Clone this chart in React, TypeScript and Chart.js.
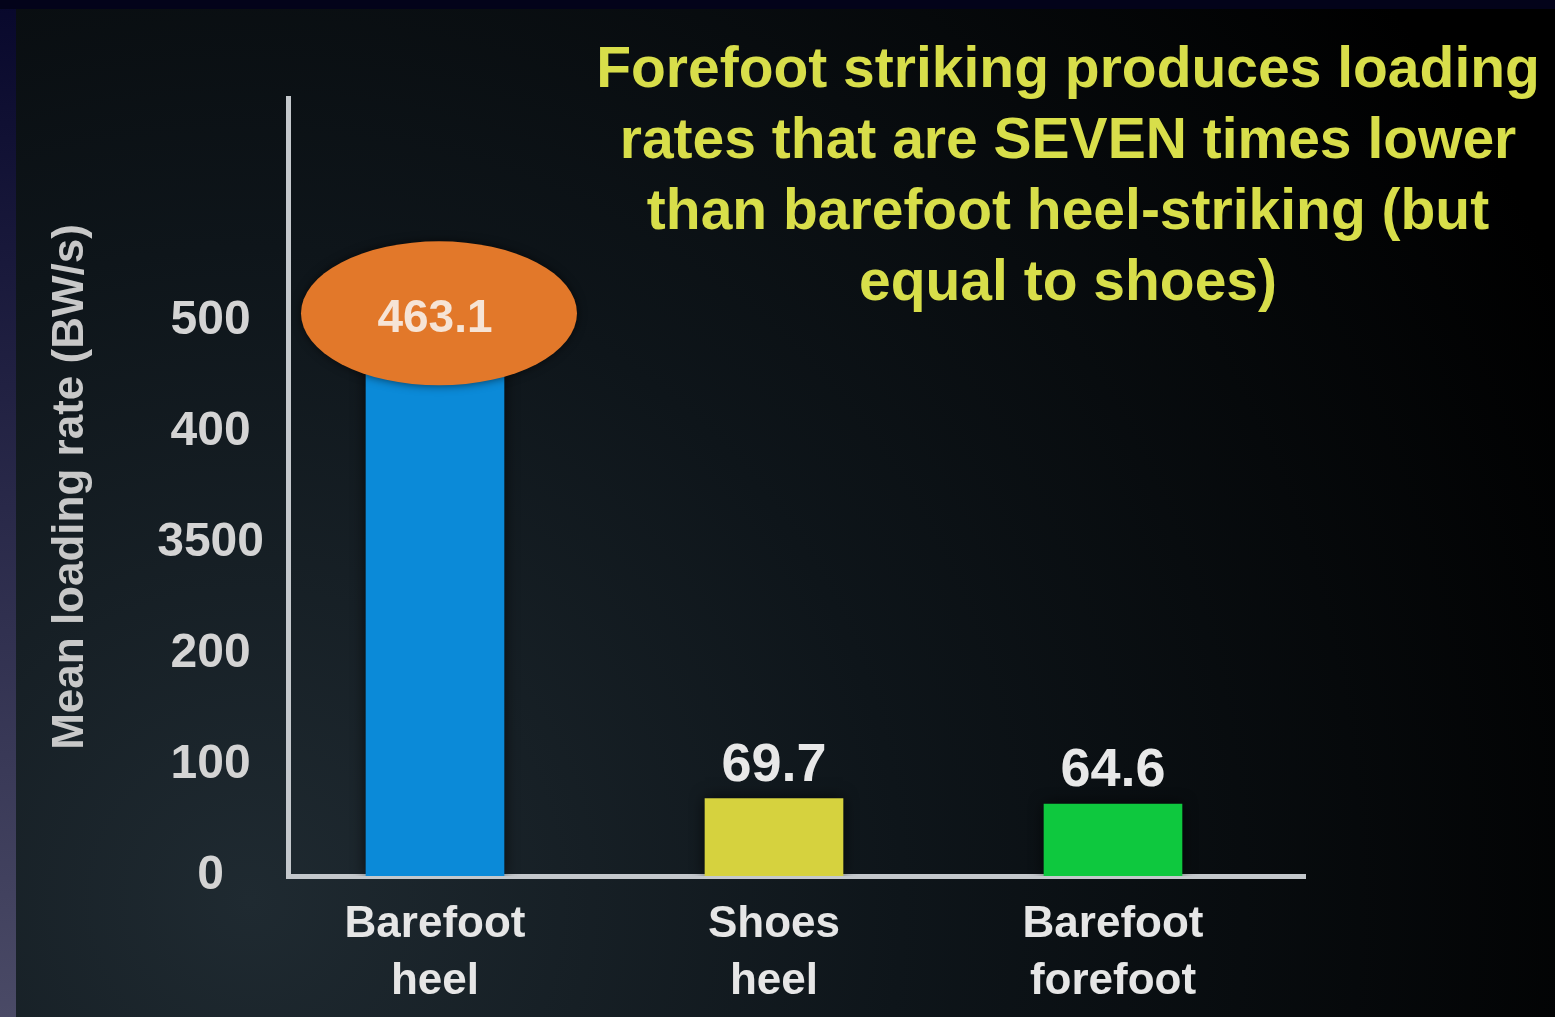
import React, { useEffect, useRef } from 'react';
import { Chart, registerables } from 'chart.js';

Chart.register(...registerables);

const categories: string[][] = [
  ['Barefoot', 'heel'],
  ['Shoes', 'heel'],
  ['Barefoot', 'forefoot'],
];
const values: number[] = [463.1, 69.7, 64.6];
const barColors: string[] = ['#0b8ad8', '#d6d23e', '#0ec83e'];
const highlightIndex = 0;
const yTickValues: number[] = [0, 100, 200, 300, 400, 500];
const yTickLabels: string[] = ['0', '100', '200', '3500', '400', '500'];
const yAxisTitle = 'Mean loading rate (BW/s)';
const titleLines: string[] = [
  'Forefoot striking produces loading',
  'rates that are SEVEN times lower',
  'than barefoot heel-striking (but',
  'equal to shoes)',
];

const FONT = '"Liberation Sans", Arial, sans-serif';

const backgroundPlugin = {
  id: 'bgPlugin',
  beforeDraw(chart: any) {
    const { ctx, width, height } = chart;
    ctx.save();
    const g = ctx.createRadialGradient(250, 900, 0, 250, 900, 1450);
    g.addColorStop(0, '#1f2a31');
    g.addColorStop(0.45, '#0e151a');
    g.addColorStop(1, '#000000');
    ctx.fillStyle = g;
    ctx.fillRect(0, 0, width, height);
    const ls = ctx.createLinearGradient(0, 0, 0, height);
    ls.addColorStop(0, '#08082c');
    ls.addColorStop(1, '#4a4a66');
    ctx.fillStyle = ls;
    ctx.fillRect(0, 0, 16, height);
    ctx.fillStyle = '#03031a';
    ctx.fillRect(0, 0, width, 9);
    ctx.restore();
  },
};

const barShadowPlugin = {
  id: 'barShadow',
  beforeDatasetsDraw(chart: any) {
    const { ctx } = chart;
    ctx.save();
    ctx.shadowColor = 'rgba(0,0,0,0.7)';
    ctx.shadowBlur = 14;
  },
  afterDatasetsDraw(chart: any) {
    chart.ctx.restore();
  },
};

const labelsPlugin = {
  id: 'labelsPlugin',
  afterDatasetsDraw(chart: any) {
    const { ctx } = chart;
    const meta = chart.getDatasetMeta(0);
    ctx.save();
    ctx.shadowColor = 'rgba(0,0,0,0)';
    ctx.shadowBlur = 0;
    meta.data.forEach((bar: any, i: number) => {
      const { x, y } = bar.getProps(['x', 'y'], true);
      const txt = values[i].toFixed(1);
      if (i === highlightIndex) {
        const cx = x + 4;
        const cy = y - 48;
        ctx.save();
        ctx.shadowColor = 'rgba(0,0,0,0.6)';
        ctx.shadowBlur = 10;
        ctx.beginPath();
        ctx.ellipse(cx, cy, 138, 72, 0, 0, Math.PI * 2);
        ctx.fillStyle = '#e2782a';
        ctx.fill();
        ctx.restore();
        ctx.fillStyle = '#f6e4d6';
        ctx.font = `bold 46px ${FONT}`;
        ctx.textAlign = 'center';
        ctx.textBaseline = 'middle';
        ctx.fillText(txt, cx - 4, cy + 6);
      } else {
        ctx.fillStyle = '#e8e8e8';
        ctx.font = `bold 54px ${FONT}`;
        ctx.textAlign = 'center';
        ctx.textBaseline = 'alphabetic';
        ctx.fillText(txt, x, y - 18);
      }
    });
    ctx.restore();
  },
};

const titlePlugin = {
  id: 'titlePlugin',
  afterDraw(chart: any) {
    const { ctx } = chart;
    ctx.save();
    ctx.fillStyle = '#d8de4a';
    ctx.font = `bold 57px ${FONT}`;
    ctx.textAlign = 'center';
    ctx.textBaseline = 'middle';
    titleLines.forEach((line, i) => {
      ctx.fillText(line, 1068, 71 + i * 71, 960);
    });
    ctx.restore();
  },
};

export default function App() {
  const canvasRef = useRef<HTMLCanvasElement | null>(null);

  useEffect(() => {
    document.body.style.margin = '0';
    const canvas = canvasRef.current;
    if (!canvas) return;
    const chart = new Chart(canvas, {
      type: 'bar',
      data: {
        datasets: [
          {
            data: values.map((v, i) => ({ x: i, y: v })),
            backgroundColor: barColors,
            borderWidth: 0,
            barThickness: 138,
          },
        ],
      },
      options: {
        animation: false,
        responsive: true,
        maintainAspectRatio: false,
        layout: { padding: { left: 16, right: 250, top: 98, bottom: 0 } },
        plugins: {
          legend: { display: false },
          tooltip: { enabled: false },
          title: { display: false },
        },
        scales: {
          x: {
            type: 'linear',
            offset: false,
            min: -0.4336,
            max: 2.5664,
            grid: { display: false, offset: false },
            border: { display: true, color: '#c4c8cc', width: 5 },
            afterBuildTicks: (scale: any) => {
              scale.ticks = categories.map((_, i) => ({ value: i }));
            },
            afterFit: (scale: any) => {
              scale.height = 141;
            },
            ticks: {
              autoSkip: false,
              maxRotation: 0,
              color: '#e6e6e6',
              padding: 12,
              font: { family: FONT, size: 44, weight: 'bold', lineHeight: 1.3 },
              callback: (v: any) => categories[v as number],
            },
          },
          y: {
            type: 'linear',
            min: 0,
            max: 700,
            grid: { display: false },
            border: { display: true, color: '#c4c8cc', width: 5 },
            afterBuildTicks: (scale: any) => {
              scale.ticks = yTickValues.map((v) => ({ value: v }));
            },
            afterFit: (scale: any) => {
              scale.width = 272;
            },
            ticks: {
              color: '#d4d4d4',
              padding: 16,
              crossAlign: 'center',
              font: { family: FONT, size: 48, weight: 'bold' },
              callback: (v: any) => {
                const idx = yTickValues.indexOf(v as number);
                return idx >= 0 ? yTickLabels[idx] : '';
              },
            },
            title: {
              display: true,
              text: yAxisTitle,
              color: '#c8c8c8',
              font: { family: FONT, size: 44, weight: 'bold' },
              padding: { top: 28, bottom: 0 },
            },
          },
        },
      },
      plugins: [backgroundPlugin, barShadowPlugin, labelsPlugin, titlePlugin],
    } as any);
    return () => chart.destroy();
  }, []);

  return (
    <div style={{ width: '1555px', height: '1017px', position: 'relative' }}>
      <canvas ref={canvasRef} />
    </div>
  );
}
